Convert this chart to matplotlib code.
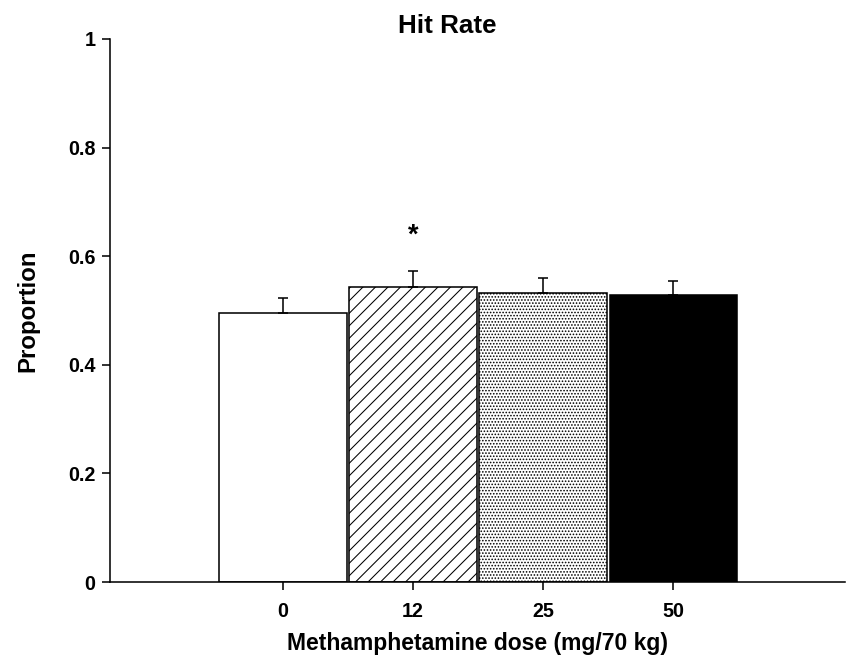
import matplotlib
matplotlib.use("Agg")
import matplotlib.pyplot as plt
import numpy as np

categories = ["0", "12", "25", "50"]
means = [0.496, 0.544, 0.533, 0.528]
errors = [0.027, 0.029, 0.027, 0.026]
hatches = ["", "//", "....", ""]
faces = ["white", "white", "white", "black"]
star_label = "*"
star_value = 0.638

DPI = 75
plt.rcParams['font.family'] = ['Liberation Sans', 'DejaVu Sans']
plt.rcParams['font.weight'] = 'bold'
plt.rcParams['hatch.linewidth'] = 1.0

fig = plt.figure(figsize=(848 / DPI, 662 / DPI), dpi=DPI)
ax = fig.add_axes([110 / 848, 80 / 662, 735 / 848, 543 / 662])

x = np.arange(len(categories))
for xi, m, e, h, fc in zip(x, means, errors, hatches, faces):
    ax.bar(xi, m, width=0.98, color=fc, edgecolor="black", linewidth=1.5, hatch=h, zorder=2)
    ax.errorbar(xi, m, yerr=[[0], [e]], fmt="none", ecolor="black", elinewidth=1.5,
                capsize=5, capthick=1.5, zorder=3)

ax.text(x[1], star_value, star_label, ha="center", va="center", fontsize=26, fontweight="bold")

ax.set_xlim(-1.33, 4.32)
ax.set_ylim(0, 1)
ax.set_xticks(x)
ax.set_xticklabels(categories)
ax.set_yticks([0, 0.2, 0.4, 0.6, 0.8, 1])
ax.set_yticklabels(["0", "0.2", "0.4", "0.6", "0.8", "1"])
ax.tick_params(axis="both", direction="out", length=8, width=1.5, labelsize=19, pad=6)
ax.tick_params(axis="x", pad=11)
for lab in ax.get_xticklabels() + ax.get_yticklabels():
    lab.set_fontweight("bold")
for s in ["top", "right"]:
    ax.spines[s].set_visible(False)
for s in ["left", "bottom"]:
    ax.spines[s].set_linewidth(1.5)

fig.text(447 / 848, 1 - 33 / 662, "Hit Rate", fontsize=25, fontweight="bold",
         ha="center", va="baseline")
ax.set_ylabel("Proportion", fontsize=23, fontweight="bold", labelpad=27)
ax.set_xlabel("Methamphetamine dose (mg/70 kg)", fontsize=22, fontweight="bold", labelpad=11)

fig.savefig("out.png", dpi=DPI)
